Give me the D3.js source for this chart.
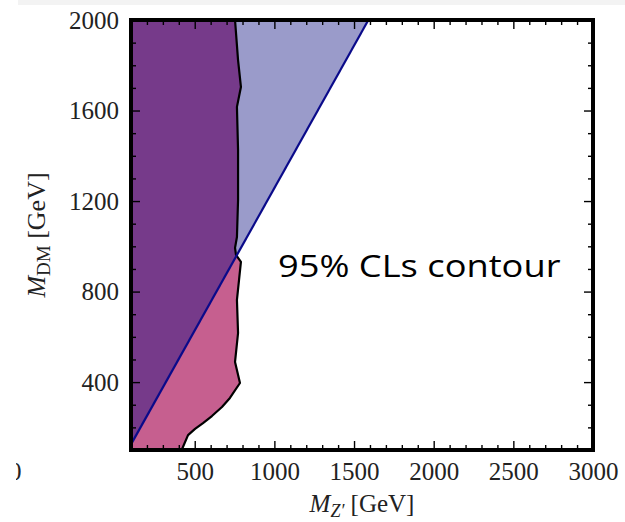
<!DOCTYPE html>
<html>
<head>
<meta charset="utf-8">
<script src="https://cdn.jsdelivr.net/npm/d3@7"></script>
<style>
  body { margin: 0; background: #fff; }
  .tick text { font-family: "Liberation Serif", serif; font-size: 25px; fill: #222; }
  .tick line { stroke: #000; stroke-width: 1.4; }
</style>
</head>
<body>
<div id="chart"></div>
<script>
var svgWidth = 625;
var svgHeight = 522;

// plot box (frame centre line)
var box = { left: 131, right: 593, top: 20, bottom: 450 };

// axis ticks
var xMajor = [500, 1000, 1500, 2000, 2500, 3000];
var yMajor = [400, 800, 1200, 1600, 2000];
var xMinor = d3.range(200, 3000, 100).filter(d => d % 500 !== 0);
var yMinor = d3.range(200, 2000, 100).filter(d => d % 400 !== 0);

// 95% CLs exclusion contour, top to bottom (M_Z', M_DM)
var contourX = [753, 772, 790, 765, 772, 772, 765, 753, 759, 790, 778, 765, 772, 753, 784, 721, 671, 608, 552, 502, 458, 418];
var contourY = [2000, 1823, 1704, 1616, 1426, 1205, 1041, 993, 962, 931, 851, 763, 617, 489, 396, 330, 290, 250, 219, 193, 166, 100];

// diagonal boundary line
var diagX = [100, 1590];
var diagY = [125, 2000];

var svg = d3.select("#chart")
  .append("svg")
  .attr("width", svgWidth)
  .attr("height", svgHeight);

// faint grey strip at the very top of the screenshot
svg.append("rect")
  .attr("x", 18).attr("y", 0)
  .attr("width", svgWidth - 18).attr("height", 5)
  .attr("fill", "#f3f3f3");

var x = d3.scaleLinear().domain([100, 3000]).range([box.left, box.right]);
var y = d3.scaleLinear().domain([100, 2000]).range([box.bottom, box.top]);

var contour = contourX.map((d, i) => [d, contourY[i]]);

// region above the diagonal
var aboveDiag = [[100, 2000], [diagX[1], diagY[1]], [diagX[0], diagY[0]]];
// region left of the contour
var leftOfContour = [[100, 100], [100, 2000]].concat(contour);

var poly = d3.line().x(d => x(d[0])).y(d => y(d[1]));

svg.append("clipPath")
  .attr("id", "above")
  .append("path")
  .attr("d", poly(aboveDiag) + "Z");

svg.append("path")
  .attr("d", poly(aboveDiag) + "Z")
  .attr("fill", "#9a9bca");

svg.append("path")
  .attr("d", poly(leftOfContour) + "Z")
  .attr("fill", "#c65f8f");

svg.append("path")
  .attr("d", poly(leftOfContour) + "Z")
  .attr("fill", "#763a8a")
  .attr("clip-path", "url(#above)");

// contour line
svg.append("path")
  .attr("d", poly(contour))
  .attr("fill", "none")
  .attr("stroke", "#000")
  .attr("stroke-width", 2.2)
  .attr("stroke-linejoin", "round");

// diagonal line
svg.append("path")
  .attr("d", poly(diagX.map((d, i) => [d, diagY[i]])))
  .attr("fill", "none")
  .attr("stroke", "#0a0a8a")
  .attr("stroke-width", 2.2);

// axes: ticks point inward on all four sides
function addAxis(axis, tx, ty) {
  var g = svg.append("g").attr("transform", `translate(${tx},${ty})`).call(axis);
  g.select(".domain").remove();
  return g;
}

addAxis(d3.axisBottom(x).tickValues(xMajor).tickSize(-9).tickPadding(12).tickFormat(d3.format("d")), 0, box.bottom);
addAxis(d3.axisBottom(x).tickValues(xMinor).tickSize(-5).tickFormat(""), 0, box.bottom);
addAxis(d3.axisTop(x).tickValues(xMajor).tickSize(-9).tickFormat(""), 0, box.top);
addAxis(d3.axisTop(x).tickValues(xMinor).tickSize(-5).tickFormat(""), 0, box.top);
addAxis(d3.axisLeft(y).tickValues(yMajor).tickSize(-9).tickPadding(12).tickFormat(d3.format("d")), box.left, 0);
addAxis(d3.axisLeft(y).tickValues(yMinor).tickSize(-5).tickFormat(""), box.left, 0);
addAxis(d3.axisRight(y).tickValues(yMajor).tickSize(-9).tickFormat(""), box.right, 0);
addAxis(d3.axisRight(y).tickValues(yMinor).tickSize(-5).tickFormat(""), box.right, 0);

// frame
svg.append("rect")
  .attr("x", box.left).attr("y", box.top)
  .attr("width", box.right - box.left).attr("height", box.bottom - box.top)
  .attr("fill", "none")
  .attr("stroke", "#000")
  .attr("stroke-width", 4);

// clipped leftover label at the left edge
svg.append("clipPath")
  .attr("id", "edge")
  .append("rect")
  .attr("x", 16).attr("y", 450).attr("width", 20).attr("height", 40);

svg.append("text")
  .attr("x", 9).attr("y", 480)
  .attr("clip-path", "url(#edge)")
  .style("font-family", "Liberation Serif, serif")
  .style("font-size", "25px")
  .attr("fill", "#222")
  .text("0");

// x axis title
var xTitle = svg.append("text")
  .attr("x", (box.left + box.right) / 2)
  .attr("y", 512)
  .attr("text-anchor", "middle")
  .style("font-family", "Liberation Serif, serif")
  .style("font-size", "25px")
  .attr("fill", "#222");
xTitle.append("tspan").style("font-style", "italic").text("M");
xTitle.append("tspan").style("font-style", "italic").style("font-size", "18px").attr("dy", 5).text("Z′");
xTitle.append("tspan").attr("dy", -5).text(" [GeV]");

// y axis title
var yTitle = svg.append("text")
  .attr("transform", `translate(45, ${(box.top + box.bottom) / 2}) rotate(-90)`)
  .attr("text-anchor", "middle")
  .style("font-family", "Liberation Serif, serif")
  .style("font-size", "26px")
  .attr("fill", "#222");
yTitle.append("tspan").style("font-style", "italic").text("M");
yTitle.append("tspan").style("font-size", "19px").attr("dy", 5).text("DM");
yTitle.append("tspan").attr("dy", -5).text(" [GeV]");

// annotation (slightly stretched horizontally, as in the slide)
svg.append("text")
  .attr("transform", "translate(278, 277) scale(1.17, 1)")
  .style("font-family", "Open Sans, sans-serif")
  .style("font-size", "31px")
  .attr("fill", "#000")
  .text("95% CLs contour");
</script>
</body>
</html>
